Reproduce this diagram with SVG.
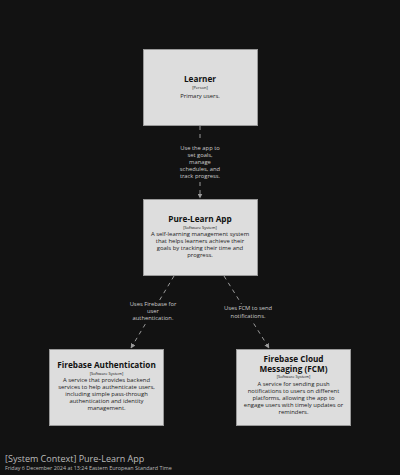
<svg xmlns="http://www.w3.org/2000/svg" width="400" height="475" viewBox="0 0 400 475">
<defs>
<style>
.box{fill:#dddddd;stroke:#999999;stroke-width:1}
.t{font-family:"Open Sans","Liberation Sans",sans-serif;fill:#111111;text-anchor:middle}
.title{font-size:8.2px;font-weight:bold}
.type{font-size:4px}
.desc{font-size:5.9px;fill:#222222}
.edge{stroke:#9a9a9a;stroke-width:1;stroke-dasharray:4,4;fill:none}
.el{font-family:"Open Sans","Liberation Sans",sans-serif;font-size:5.8px;fill:#cccccc;text-anchor:middle}
.foot{font-family:"Open Sans","Liberation Sans",sans-serif;fill:#bbbbbb}
</style>
<marker id="arr" viewBox="0 0 10 10" refX="9" refY="5" markerWidth="5" markerHeight="5" orient="auto" markerUnits="userSpaceOnUse">
<path d="M0,0 L10,5 L0,10 z" fill="#9a9a9a"/>
</marker>
</defs>
<rect width="400" height="475" fill="#121212"/>
<g id="connectors">
<line class="edge" x1="200" y1="126" x2="200" y2="198" marker-end="url(#arr)"/>
<rect x="174" y="142" width="52" height="38" fill="#121212"/>
<text class="el"><tspan x="200" y="150">Use the app to</tspan><tspan x="200" y="157">set goals,</tspan><tspan x="200" y="164">manage</tspan><tspan x="200" y="171">schedules, and</tspan><tspan x="200" y="178">track progress.</tspan></text>
<line class="edge" x1="174" y1="276" x2="131" y2="348" marker-end="url(#arr)"/>
<rect x="126" y="300" width="54" height="24" fill="#121212"/>
<text class="el"><tspan x="153" y="306">Uses Firebase for</tspan><tspan x="153" y="313">user</tspan><tspan x="153" y="320">authentication.</tspan></text>
<line class="edge" x1="224" y1="276" x2="269" y2="348" marker-end="url(#arr)"/>
<rect x="215" y="304" width="66" height="16" fill="#121212"/>
<text class="el"><tspan x="248" y="310">Uses FCM to send</tspan><tspan x="248" y="317.5">notifications.</tspan></text>
</g>
<g id="learner">
<rect class="box" x="143.5" y="49.5" width="114" height="76"/>
<text class="t title" x="200" y="82">Learner</text>
<text class="t type" x="200" y="89">[Person]</text>
<text class="t desc" x="200" y="98">Primary users.</text>
</g>
<g id="pure-learn-app">
<rect class="box" x="143.5" y="199.5" width="114" height="76"/>
<text class="t title" x="200" y="222">Pure-Learn App</text>
<text class="t type" x="200" y="228.5">[Software System]</text>
<text class="t desc"><tspan x="200" y="236">A self-learning management system</tspan><tspan x="200" y="243">that helps learners achieve their</tspan><tspan x="200" y="250">goals by tracking their time and</tspan><tspan x="200" y="257">progress.</tspan></text>
</g>
<g id="firebase-auth">
<rect class="box" x="49.5" y="349.5" width="114" height="76"/>
<text class="t title" x="106.5" y="368">Firebase Authentication</text>
<text class="t type" x="106.5" y="374.5">[Software System]</text>
<text class="t desc"><tspan x="106.5" y="382">A service that provides backend</tspan><tspan x="106.5" y="389">services to help authenticate users,</tspan><tspan x="106.5" y="396">including simple pass-through</tspan><tspan x="106.5" y="403">authentication and identity</tspan><tspan x="106.5" y="410">management.</tspan></text>
</g>
<g id="fcm">
<rect class="box" x="236.5" y="349.5" width="114" height="76"/>
<text class="t title"><tspan x="293.5" y="362">Firebase Cloud</tspan><tspan x="293.5" y="372">Messaging (FCM)</tspan></text>
<text class="t type" x="293.5" y="378">[Software System]</text>
<text class="t desc"><tspan x="293.5" y="386">A service for sending push</tspan><tspan x="293.5" y="393">notifications to users on different</tspan><tspan x="293.5" y="400">platforms, allowing the app to</tspan><tspan x="293.5" y="407">engage users with timely updates or</tspan><tspan x="293.5" y="414">reminders.</tspan></text>
</g>
<text class="foot" x="5" y="462" font-size="9">[System Context] Pure-Learn App</text>
<text class="foot" x="5" y="470" font-size="5.4">Friday 6 December 2024 at 13:24 Eastern European Standard Time</text>
</svg>
